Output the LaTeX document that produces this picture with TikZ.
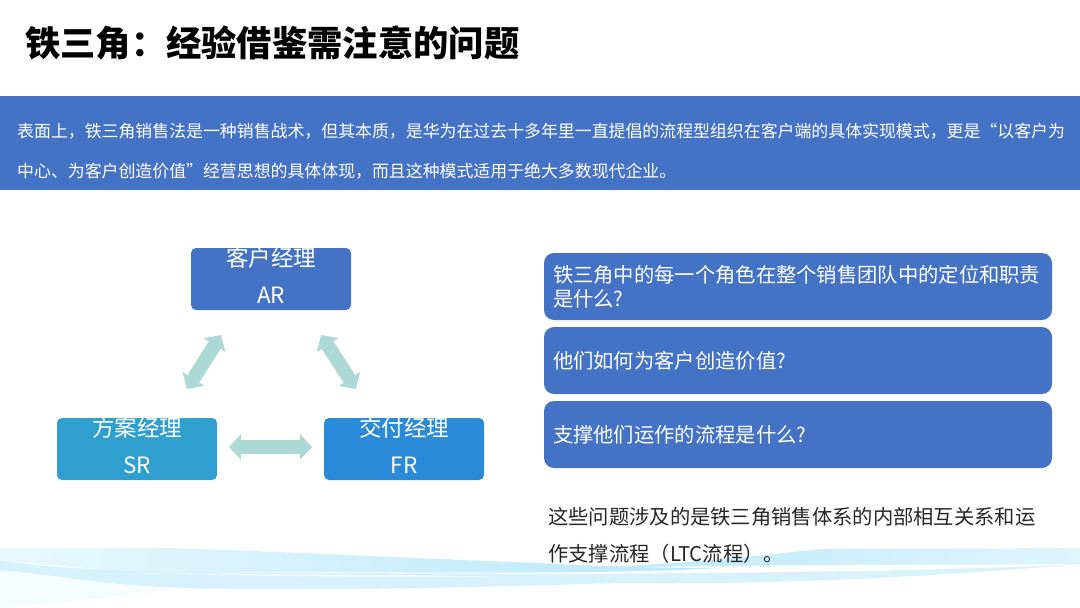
\documentclass[tikz,border=0pt]{standalone}
\usepackage{fontspec}
\setmainfont{Noto Sans CJK SC}
\usepackage{tikz}
\usetikzlibrary{arrows.meta}
\pgfdeclarelayer{bg}
\pgfsetlayers{bg,main}
\definecolor{bluebar}{HTML}{4472C4}
\definecolor{skyrole}{HTML}{2F9FCF}
\definecolor{midrole}{HTML}{2A8AD8}
\definecolor{paleflow}{HTML}{ACD8D5}
\definecolor{wavecol}{HTML}{7FD6F5}
\newcommand{\zhcomma}{\char"FF0C\relax}
\newcommand{\zhcolon}{\char"FF1A\relax}
\newcommand{\zhopen}{\char"FF08\relax}
\newcommand{\zhclose}{\char"FF09\relax}
\tikzset{
    role/.style={rounded corners=5pt, minimum width=160pt, minimum height=62pt, inner sep=0pt, inner ysep=-3pt,
        text=white, align=center, text depth=7pt, font=\fontsize{22.5}{37}\selectfont},
    ask/.style={fill=bluebar, rounded corners=10pt, minimum width=508pt, minimum height=67pt, inner sep=0pt,
        text=white, text width=490pt, align=left, font=\fontsize{20.3}{24}\selectfont},
    barline/.style={anchor=west, inner sep=0pt, text=white, font=\fontsize{16.9}{20}\selectfont},
    noteline/.style={anchor=west, inner sep=0pt, text=black!85, font=\fontsize{20.3}{24}\selectfont},
    flow/.style={paleflow, line width=14pt,
        {Triangle[length=12pt,width=25pt]}-{Triangle[length=12pt,width=25pt]}},
}
\begin{document}
\begin{tikzpicture}[x=1pt,y=-1pt]
    \useasboundingbox (0,0) rectangle (1080,608);

    \begin{pgfonlayer}{bg}    % the wave under the note text
        \fill[wavecol!8] (0,570) .. controls (60,580) and (120,585) .. (170,590)
            .. controls (110,597) and (50,603) .. (0,608) -- cycle;
        \shade[left color=wavecol!32, right color=wavecol!30] (0,560) .. controls (80,575) and (250,572) .. (540,574)
            .. controls (800,573) and (1000,569) .. (1080,564)
            .. controls (950,575) and (800,585) .. (620,583)
            .. controls (450,588) and (200,595) .. (100,582)
            .. controls (60,577) and (30,573) .. (0,570) -- cycle;
        \fill[white, opacity=.6] (120,573) .. controls (250,574) and (400,574) .. (500,577)
            .. controls (400,578) and (250,576) .. (120,573) -- cycle;
        \shade[left color=wavecol!18, right color=wavecol!55] (0,548) -- (170,548)
            .. controls (300,552) and (450,560) .. (540,563)
            .. controls (590,566) and (650,568) .. (720,568)
            .. controls (600,575) and (400,572) .. (250,572)
            .. controls (120,574) and (50,565) .. (0,560) -- cycle;
        \shade[left color=wavecol!55, right color=wavecol!25] (540,568)
            .. controls (640,568) and (720,560) .. (820,549) -- (1080,548) -- (1080,564)
            .. controls (950,565) and (800,565) .. (700,566)
            .. controls (640,567) and (580,568) .. (540,568) -- cycle;
    \end{pgfonlayer}

    \node [anchor=west, inner sep=0pt, font=\fontsize{35.3}{40}\selectfont\bfseries] (title) at (25,43) {铁三角\zhcolon 经验借鉴需注意的问题};

    \fill[bluebar] (0,96) rectangle (1080,190);
    \node [barline] (bar1) at (17,131) {表面上\zhcomma 铁三角销售法是一种销售战术\zhcomma 但其本质\zhcomma 是华为在过去十多年里一直提倡的流程型组织在客户端的具体实现模式\zhcomma 更是“以客户为};
    \node [barline] (bar2) at (17,171) {中心、为客户创造价值”经营思想的具体体现\zhcomma 而且这种模式适用于绝大多数现代企业。};

    \node [role, fill=bluebar] (ar) at (271,279) {客户经理\\AR};
    \node [role, fill=skyrole] (sr) at (137,449) {方案经理\\SR};
    \node [role, fill=midrole] (fr) at (404,449) {交付经理\\FR};

    \coordinate (arleft) at (221,335);
    \coordinate (arright) at (321,335);
    \coordinate (srtop) at (187,389);
    \coordinate (frtop) at (356,389);
    \coordinate (srside) at (229,447);
    \coordinate (frside) at (312,447);
    \draw [flow] (arleft) -- (srtop);
    \draw [flow] (arright) -- (frtop);
    \draw [flow] (srside) -- (frside);

    \node [ask] (q1) at (798,286.5) {铁三角中的每一个角色在整个销售团队中的定位和职责\\是什么?};
    \node [ask] (q2) at (798,360.5) {他们如何为客户创造价值?};
    \node [ask] (q3) at (798,434.5) {支撑他们运作的流程是什么?};

    \node [noteline] (note1) at (548,517) {这些问题涉及的是铁三角销售体系的内部相互关系和运};
    \node [noteline] (note2) at (548,554) {作支撑流程\zhopen LTC流程\zhclose 。};
\end{tikzpicture}
\end{document}
